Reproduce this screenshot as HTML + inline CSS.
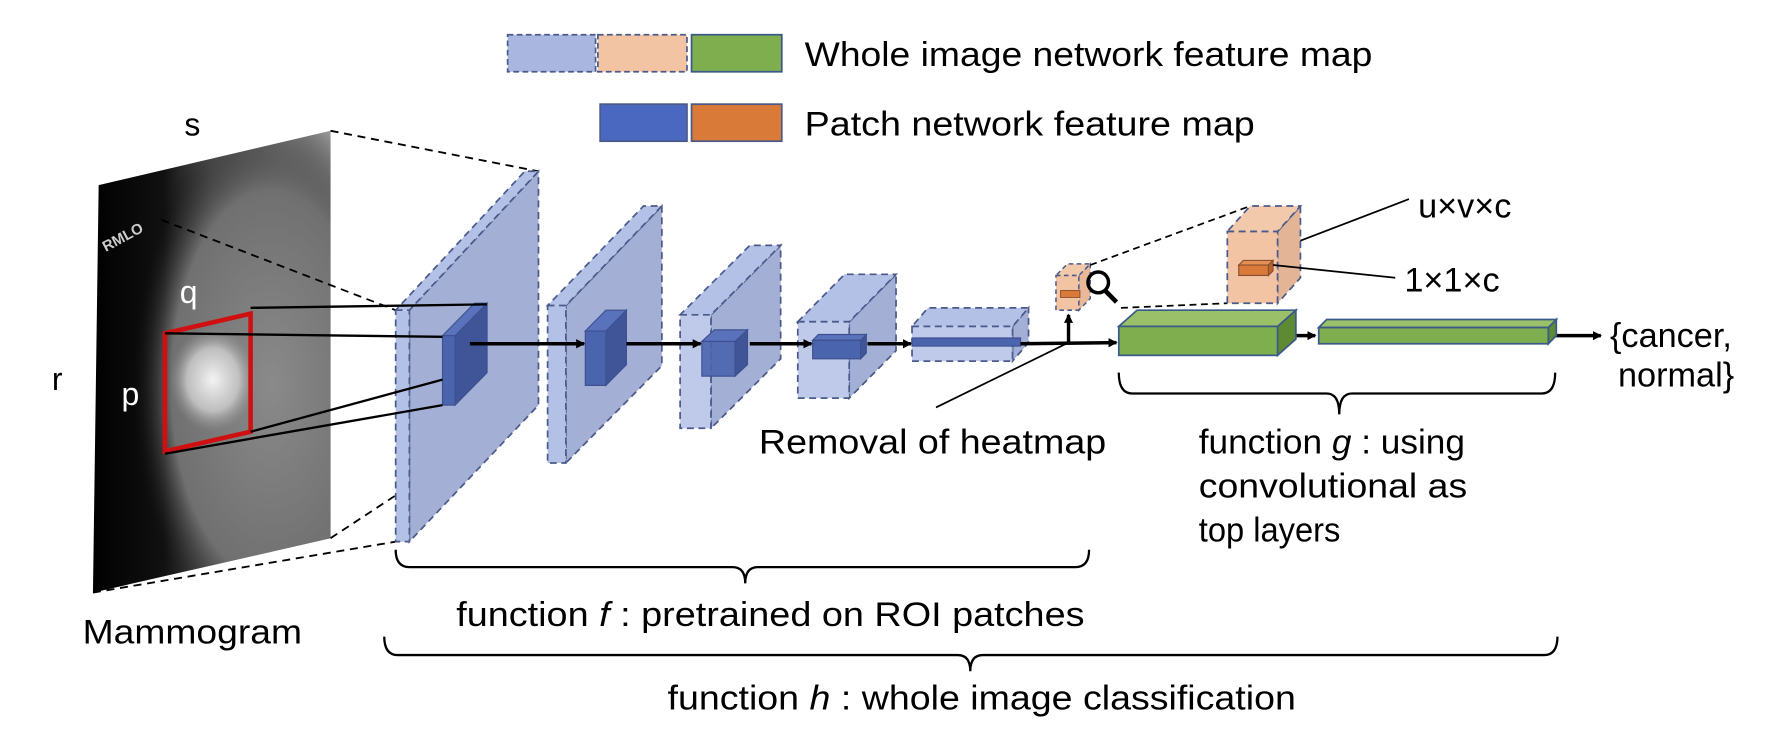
<!DOCTYPE html>
<html><head><meta charset="utf-8"><style>
html,body{margin:0;padding:0;background:#fff;}
svg{display:block;}
text{font-family:"Liberation Sans",Arial,sans-serif;fill:#000;}
</style></head><body>
<svg width="1789" height="750" viewBox="0 0 1545 648" xmlns="http://www.w3.org/2000/svg">
<defs>
<linearGradient id="mg" x1="0" y1="0" x2="1" y2="0">
<stop offset="0" stop-color="#000"/><stop offset="0.3" stop-color="#111"/><stop offset="0.5" stop-color="#555"/><stop offset="0.8" stop-color="#8a8a8a"/><stop offset="1" stop-color="#9a9a9a"/>
</linearGradient>
<radialGradient id="blob" cx="0.5" cy="0.5" r="0.5">
<stop offset="0" stop-color="#f4f4f4"/><stop offset="0.6" stop-color="#d0d0d0" stop-opacity="0.8"/><stop offset="1" stop-color="#999" stop-opacity="0"/>
</radialGradient>
<radialGradient id="breast" cx="0.75" cy="0.55" r="0.6">
<stop offset="0" stop-color="#8a8a8a"/><stop offset="0.7" stop-color="#707070"/><stop offset="1" stop-color="#000" stop-opacity="0"/>
</radialGradient>
<marker id="ar" markerWidth="8" markerHeight="8" refX="7" refY="4" orient="auto" markerUnits="userSpaceOnUse"><path d="M0,0 L8,4 L0,8 z" fill="#000"/></marker>
</defs>
<g transform="translate(1,0) scale(0.987,1)">
<!-- legend -->
<g stroke="#4a5a8a" stroke-width="1.5">
<rect x="443" y="30" width="77" height="32" fill="#a9b7e0" stroke-dasharray="5,3"/>
<rect x="522" y="30" width="78" height="32" fill="#f2c4a4" stroke-dasharray="5,3"/>
<rect x="604" y="30" width="79" height="32" fill="#7fae4f" stroke="#3a5a8a"/>
<rect x="524" y="90" width="76" height="32" fill="#4a68bf"/>
<rect x="604" y="90" width="79" height="32" fill="#d97a38"/>
</g>
<text x="703" y="57" font-size="30" textLength="497" lengthAdjust="spacingAndGlyphs">Whole image network feature map</text>
<text x="703" y="117" font-size="30" textLength="394" lengthAdjust="spacingAndGlyphs">Patch network feature map</text>

<!-- mammogram -->
<polygon points="85,160 288,113 288,465 80,512" fill="url(#mg)"/>
<polygon points="85,160 288,113 288,465 80,512" fill="url(#breast)"/>
<ellipse cx="185" cy="328" rx="38" ry="45" fill="url(#blob)"/>
<text x="88" y="215" font-size="13" style="fill:#ccc" transform="rotate(-28 95 210)" font-weight="bold">RMLO</text>
<text x="160" y="117" font-size="28">s</text>
<text x="44" y="337" font-size="28">r</text>
<text x="156" y="262" font-size="28" style="fill:#fff">q</text>
<text x="105" y="350" font-size="28" style="fill:#fff">p</text>
<polygon points="143,288 218,271 218,373 143,390" fill="none" stroke="#d01010" stroke-width="4"/>
<text x="71" y="556" font-size="30" textLength="192" lengthAdjust="spacingAndGlyphs">Mammogram</text>

<g stroke="#000" stroke-width="1.6" stroke-dasharray="7,5" fill="none">
<line x1="288" y1="113" x2="470" y2="148"/>
<line x1="140" y1="190" x2="345" y2="268"/>
<line x1="288" y1="465" x2="345" y2="428"/>
<line x1="80" y1="512" x2="345" y2="468"/>
</g>

<!-- plane 1 -->
<g stroke="#4a5a8a" stroke-width="1.5" stroke-dasharray="6,4">
<polygon points="357,268 470,148 470,350 357,468" fill="#a3afd4"/>
<polygon points="345,268 357,268 470,148 458,148" fill="#b4c1e6"/>
<rect x="345" y="268" width="12" height="200" fill="#b4c1e6"/>
</g>
<g stroke="#3e5090" stroke-width="1">
<polygon points="397,290 425,262 425,322 397,350" fill="#3f5597"/>
<polygon points="386,290 397,290 425,262 414,262" fill="#5a72bb"/>
<rect x="386" y="290" width="11" height="60" fill="#4a64ad"/>
</g>
<g stroke="#000" stroke-width="2">
<line x1="218" y1="266" x2="425" y2="263"/>
<line x1="143" y1="288" x2="386" y2="291"/>
<line x1="218" y1="373" x2="386" y2="328"/>
<line x1="143" y1="392" x2="386" y2="350"/>
</g>

<!-- plane 2 -->
<g stroke="#4a5a8a" stroke-width="1.5" stroke-dasharray="6,4">
<polygon points="494,264 578,178 578,316 494,400" fill="#a3afd4"/>
<polygon points="478,264 494,264 578,178 562,178" fill="#b4c1e6"/>
<rect x="478" y="264" width="16" height="136" fill="#b4c1e6"/>
</g>
<g stroke="#3e5090" stroke-width="1">
<polygon points="529,286 547,268 547,315 529,333" fill="#3f5597"/>
<polygon points="511,286 529,286 547,268 529,268" fill="#5a72bb"/>
<rect x="511" y="286" width="18" height="47" fill="#4a64ad"/>
</g>

<!-- plane 3 -->
<g stroke="#4a5a8a" stroke-width="1.5" stroke-dasharray="6,4">
<polygon points="621,272 682,212 682,310 621,370" fill="#a3afd4"/>
<polygon points="594,272 621,272 682,212 655,212" fill="#b4c1e6"/>
<rect x="594" y="272" width="27" height="98" fill="#b4c1e6" fill-opacity="0.85"/>
</g>
<g stroke="#3e5090" stroke-width="1">
<polygon points="642,295 653,285 653,315 642,325" fill="#3f5597"/>
<polygon points="613,295 642,295 653,285 624,285" fill="#5a72bb"/>
<rect x="613" y="295" width="29" height="30" fill="#4a64ad" fill-opacity="0.9"/>
</g>

<!-- plane 4 -->
<g stroke="#4a5a8a" stroke-width="1.5" stroke-dasharray="6,4">
<polygon points="742,278 783,237 783,303 742,344" fill="#a3afd4"/>
<polygon points="697,278 742,278 783,237 738,237" fill="#b4c1e6"/>
<rect x="697" y="278" width="45" height="66" fill="#b4c1e6" fill-opacity="0.85"/>
</g>
<g stroke="#3e5090" stroke-width="1">
<polygon points="752,294 757,289 757,305 752,310" fill="#3f5597"/>
<polygon points="710,294 752,294 757,289 715,289" fill="#5a72bb"/>
<rect x="710" y="294" width="42" height="16" fill="#4a64ad"/>
</g>

<!-- plane 5 -->
<g stroke="#4a5a8a" stroke-width="1.5" stroke-dasharray="6,4">
<polygon points="885,282 899,266 899,296 885,312" fill="#a3afd4"/>
<polygon points="797,282 885,282 899,266 811,266" fill="#b4c1e6"/>
<rect x="797" y="282" width="88" height="30" fill="#b4c1e6" fill-opacity="0.85"/>
</g>
<rect x="797" y="292" width="95" height="7" fill="#4a64ad" stroke="#3e5090" stroke-width="1"/>

<!-- arrows -->
<g stroke="#000" stroke-width="3" marker-end="url(#ar)">
<line x1="410" y1="297" x2="510" y2="297"/>
<line x1="547" y1="297" x2="612" y2="297"/>
<line x1="655" y1="297" x2="709" y2="297"/>
<line x1="758" y1="297" x2="796" y2="297"/>
<line x1="892" y1="297" x2="976" y2="296"/>
<line x1="934" y1="296" x2="934" y2="272"/>
<line x1="1117" y1="290" x2="1150" y2="290"/>
<line x1="1356" y1="290" x2="1400" y2="290"/>
</g>
<line x1="818" y1="352" x2="934" y2="296" stroke="#000" stroke-width="1.5"/>
<text x="663" y="392" font-size="30" textLength="304" lengthAdjust="spacingAndGlyphs">Removal of heatmap</text>

<!-- small peach box -->
<g stroke="#4a5a8a" stroke-width="1.3" stroke-dasharray="4,3">
<polygon points="943,238 953,228 953,258 943,268" fill="#e8b898"/>
<polygon points="923,238 943,238 953,228 933,228" fill="#f2c9ab"/>
<rect x="923" y="238" width="20" height="30" fill="#f2c4a4"/>
</g>
<rect x="927" y="251" width="17" height="6" fill="#d97a38" stroke="#8a5030" stroke-width="0.8"/>
<circle cx="960" cy="244" r="9" fill="none" stroke="#000" stroke-width="3"/>
<line x1="966" y1="251" x2="976" y2="261" stroke="#000" stroke-width="4"/>
<g stroke="#000" stroke-width="1.5" stroke-dasharray="6,4">
<line x1="953" y1="229" x2="1093" y2="178"/>
<line x1="980" y1="266" x2="1073" y2="262"/>
</g>

<!-- big peach box -->
<g stroke="#4a5a8a" stroke-width="1.5" stroke-dasharray="6,4">
<polygon points="1117,200 1137,178 1137,240 1117,262" fill="#e3b596"/>
<polygon points="1073,200 1117,200 1137,178 1093,178" fill="#f2c9ab"/>
<rect x="1073" y="200" width="44" height="62" fill="#f2c4a4"/>
</g>
<g stroke="#8a5030" stroke-width="1">
<polygon points="1083,229 1109,229 1113,225 1087,225" fill="#e49055"/>
<rect x="1083" y="229" width="26" height="9" fill="#d97a38"/>
<polygon points="1109,229 1113,225 1113,234 1109,238" fill="#b86428"/>
</g>
<line x1="1137" y1="208" x2="1232" y2="172" stroke="#000" stroke-width="1.5"/>
<line x1="1113" y1="229" x2="1220" y2="240" stroke="#000" stroke-width="1.5"/>
<text x="1240" y="188" font-size="30">u×v×c</text>
<text x="1228" y="252" font-size="30">1×1×c</text>

<!-- green boxes -->
<g stroke="#3a5a8a" stroke-width="1.5">
<polygon points="1117,282 1133,268 1133,293 1117,307" fill="#5e8a34"/>
<polygon points="978,282 1117,282 1133,268 994,268" fill="#9ac06a"/>
<rect x="978" y="282" width="139" height="25" fill="#7fae4f"/>
<polygon points="1354,283 1361,276 1361,290 1354,297" fill="#5e8a34"/>
<polygon points="1153,283 1354,283 1361,276 1160,276" fill="#9ac06a"/>
<rect x="1153" y="283" width="201" height="14" fill="#7fae4f"/>
</g>
<text x="1408" y="300" font-size="30">{cancer,</text>
<text x="1415" y="334" font-size="30">normal}</text>

<!-- brackets -->
<g stroke="#000" stroke-width="2" fill="none">
<path d="M978,322 Q978,340 990,340 L1160,340 Q1171,340 1171,358 Q1171,340 1182,340 L1348,340 Q1360,340 1360,322"/>
<path d="M345,475 Q345,490 357,490 L640,490 Q651,490 651,504 Q651,490 662,490 L940,490 Q952,490 952,475"/>
<path d="M335,550 Q335,566 347,566 L837,566 Q848,566 848,580 Q848,566 859,566 L1350,566 Q1362,566 1362,550"/>
</g>
<text x="1048" y="392" font-size="30" textLength="233" lengthAdjust="spacingAndGlyphs">function <tspan font-style="italic">g</tspan> : using</text>
<text x="1048" y="430" font-size="30" textLength="235" lengthAdjust="spacingAndGlyphs">convolutional as</text>
<text x="1048" y="468" font-size="30" textLength="124" lengthAdjust="spacingAndGlyphs">top layers</text>
<text x="398" y="541" font-size="30" textLength="550" lengthAdjust="spacingAndGlyphs">function <tspan font-style="italic">f</tspan> : pretrained on ROI patches</text>
<text x="583" y="613" font-size="30" textLength="550" lengthAdjust="spacingAndGlyphs">function <tspan font-style="italic">h</tspan> : whole image classification</text>
</g>
</svg>
</body></html>
